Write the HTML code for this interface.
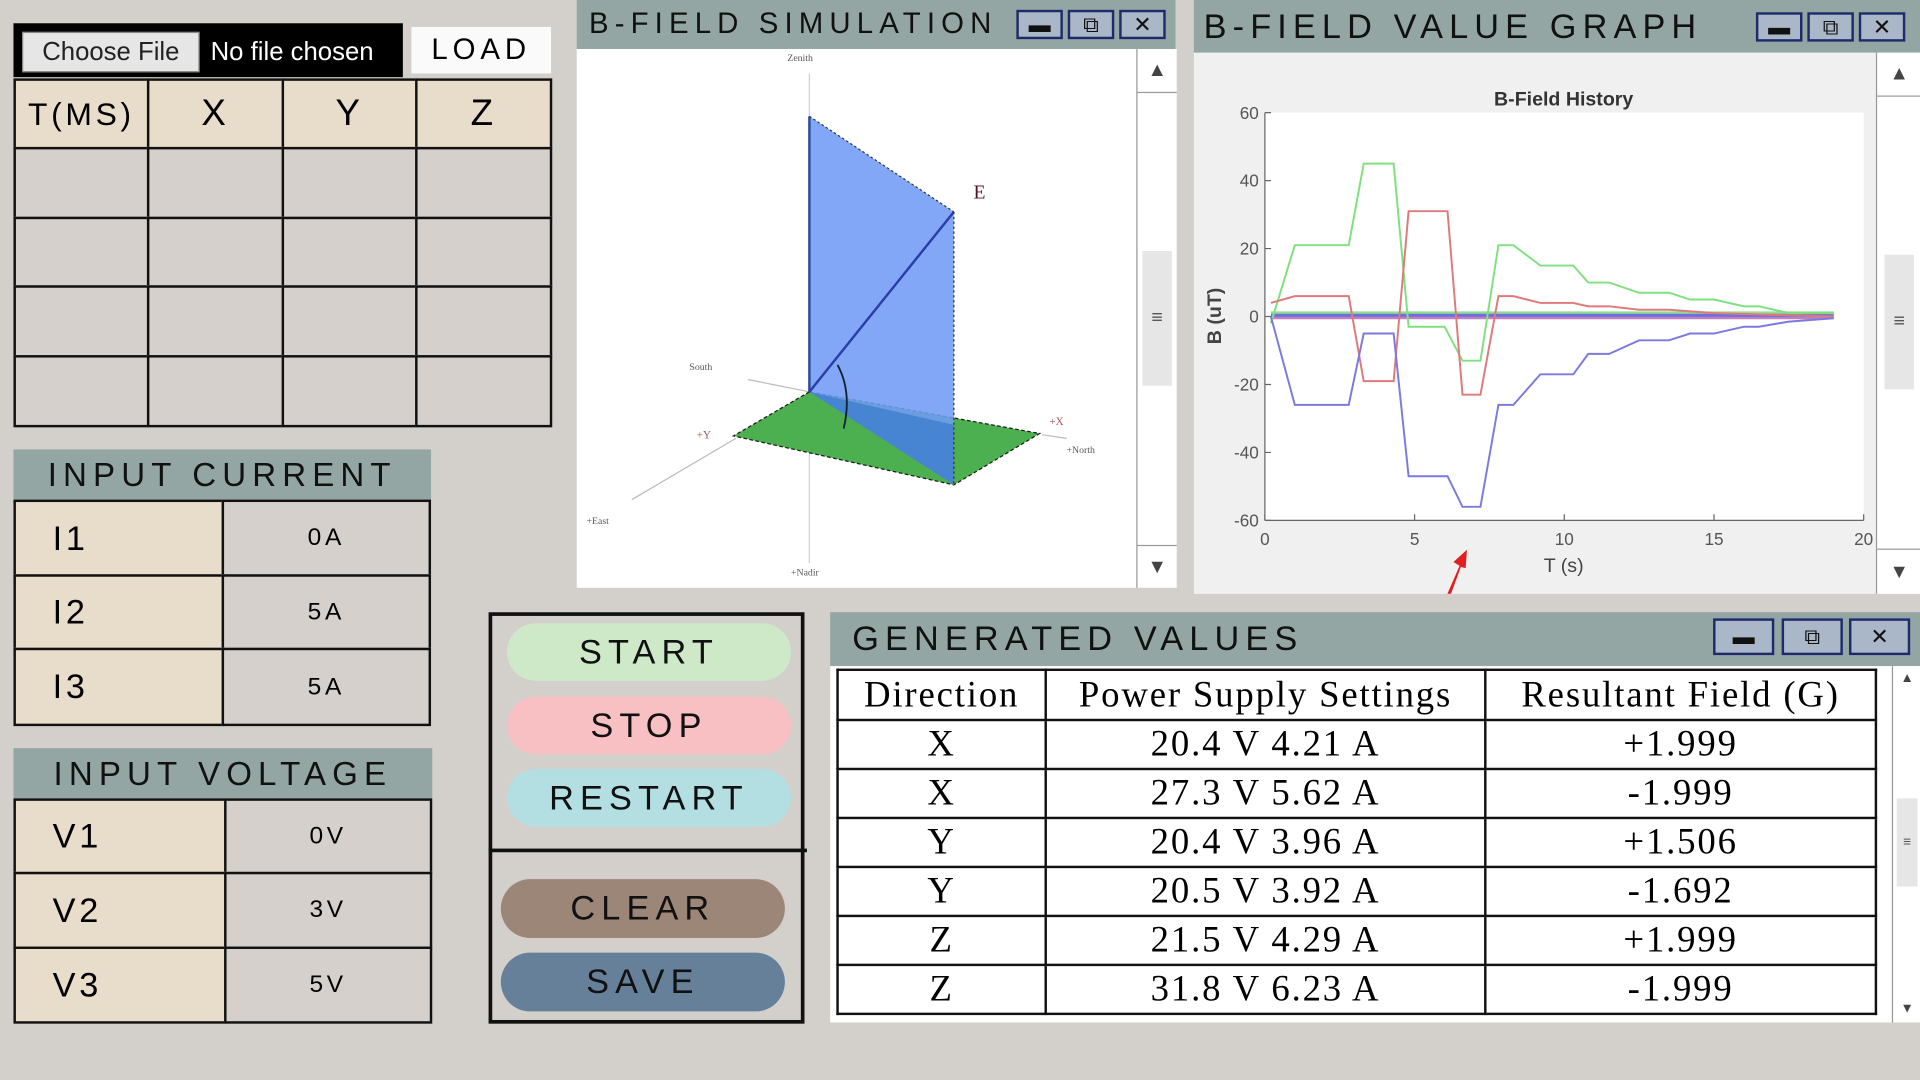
<!DOCTYPE html>
<html><head><meta charset="utf-8"><style>
html,body{margin:0;padding:0;width:1920px;height:1080px;overflow:hidden;background:#d3cfcb;font-family:"Liberation Sans",sans-serif}
#root{position:absolute;left:0;top:0;width:1568px;height:882px;transform:scale(1.22449);transform-origin:0 0;background:#d3cfcb}
.a{position:absolute;box-sizing:border-box}
.cell{position:absolute;box-sizing:border-box;border:2px solid #111;display:flex;align-items:center;justify-content:center}
.beige{background:#e8dccb}
.grey{background:#d5d0cb}
.hdr{background:#93a6a3;letter-spacing:5px;font-size:27px;color:#111;display:flex;align-items:center}
.btn{position:absolute;border-radius:24px;display:flex;align-items:center;justify-content:center;font-size:28px;letter-spacing:5px;color:#111}
.wb{position:absolute;top:8px;width:38px;height:24px;border:2px solid #1e2a6a;background:#a9b7c8;box-sizing:border-box;display:flex;align-items:center;justify-content:center;font-size:18px;color:#111}
.sb{position:absolute;background:#fff;border-left:1px solid #999}
.gv td{border:2px solid #111;text-align:center;font-family:"Liberation Serif",serif;font-size:30px;letter-spacing:1.5px;height:36px;padding:0;box-sizing:border-box}
.gv tr{height:40px}
.gv tr:first-child{height:41px}
</style></head><body>
<div id="root">
<!-- file row -->
<div class="a" style="left:11px;top:19px;width:318px;height:44px;background:#000"></div>
<div class="a" style="left:18px;top:26px;width:145px;height:33px;background:#e6e6e6;border:1px solid #888;font-size:21px;color:#222;display:flex;align-items:center;justify-content:center">Choose File</div>
<div class="a" style="left:172px;top:26px;width:155px;height:33px;color:#fff;font-size:21px;display:flex;align-items:center">No file chosen</div>
<div class="a" style="left:336px;top:22px;width:114px;height:38px;background:#fafafa;font-size:24px;letter-spacing:4px;display:flex;align-items:center;justify-content:center">LOAD</div>
<!-- data table -->
<div id="dt"></div>
<!-- input current -->
<div class="a hdr" style="left:11px;top:367px;width:341px;height:42px;justify-content:center">INPUT CURRENT</div>
<div id="ic"></div>
<div class="a hdr" style="left:11px;top:611px;width:342px;height:42px;justify-content:center">INPUT VOLTAGE</div>
<div id="iv"></div>
<!-- control panel -->
<div class="a" style="left:399px;top:500px;width:258px;height:336px;border:3px solid #111"></div>
<div class="a" style="left:399px;top:693px;width:260px;height:3px;background:#111"></div>
<div class="btn" style="left:414px;top:509px;width:232px;height:47px;background:#cde9c7">START</div>
<div class="btn" style="left:414px;top:569px;width:232px;height:47px;background:#f8c0c3">STOP</div>
<div class="btn" style="left:414px;top:628px;width:232px;height:47px;background:#b3dfe3">RESTART</div>
<div class="btn" style="left:409px;top:718px;width:232px;height:48px;background:#9c8677">CLEAR</div>
<div class="btn" style="left:409px;top:778px;width:232px;height:48px;background:#67809a">SAVE</div>
<!-- simulation window -->
<div class="a hdr" style="left:471px;top:0;width:489px;height:40px;padding-left:10px;font-size:24px">B-FIELD SIMULATION</div>
<div class="wb" style="left:830px">▬</div>
<div class="wb" style="left:872px">⧉</div>
<div class="wb" style="left:914px">✕</div>
<div class="a" style="left:471px;top:40px;width:457px;height:440px;background:#fff">
<svg width="457" height="440" viewBox="0 0 457 440">
<line x1="190" y1="20" x2="190" y2="420" stroke="#e3c8c8" stroke-width="1"/>
<line x1="140" y1="270" x2="190" y2="280" stroke="#bbb"/>
<line x1="45" y1="368" x2="130" y2="318" stroke="#bbb"/>
<line x1="380" y1="315" x2="400" y2="318" stroke="#bbb"/>
<polygon points="190,280 128,316 308,356 378,314" fill="#4caf50" stroke="#1a1a1a" stroke-dasharray="3,2"/>
<polygon points="190,55 190,280 308,356 308,133" fill="#6f9bf5" opacity="0.88"/>
<polygon points="190,280 308,356 308,307" fill="#3f7fd0" opacity="0.8"/>
<line x1="190" y1="55" x2="190" y2="280" stroke="#2b4a9a" stroke-width="2"/>
<line x1="190" y1="280" x2="308" y2="133" stroke="#2b3ea8" stroke-width="2"/>
<line x1="190" y1="55" x2="308" y2="133" stroke="#333" stroke-dasharray="2,2"/>
<line x1="308" y1="133" x2="308" y2="356" stroke="#333" stroke-dasharray="2,2"/>
<path d="M213 258 Q225 280 218 310" fill="none" stroke="#123" stroke-width="1.5"/>
<text x="324" y="122" font-family="Liberation Serif" font-size="16" fill="#512">E</text>
<text x="172" y="10" font-family="Liberation Serif" font-size="8" fill="#555">Zenith</text>
<text x="92" y="262" font-family="Liberation Serif" font-size="8" fill="#555">South</text>
<text x="98" y="318" font-family="Liberation Serif" font-size="9" fill="#a55">+Y</text>
<text x="386" y="307" font-family="Liberation Serif" font-size="9" fill="#a55">+X</text>
<text x="400" y="330" font-family="Liberation Serif" font-size="8" fill="#555">+North</text>
<text x="8" y="388" font-family="Liberation Serif" font-size="8" fill="#555">+East</text>
<text x="175" y="430" font-family="Liberation Serif" font-size="8" fill="#555">+Nadir</text>
</svg></div>
<div class="sb" style="left:928px;top:40px;width:32px;height:440px">
<div class="a" style="left:0;top:0;width:32px;height:36px;border-bottom:1px solid #999;text-align:center;font-size:16px;line-height:36px;color:#444">▲</div>
<div class="a" style="left:4px;top:165px;width:24px;height:110px;background:#e6e6e6;text-align:center;line-height:110px;color:#555">≡</div>
<div class="a" style="left:0;top:405px;width:32px;height:35px;border-top:1px solid #999;text-align:center;font-size:16px;line-height:35px;color:#444">▼</div></div>
<!-- graph window -->
<div class="a hdr" style="left:975px;top:0;width:593px;height:43px;padding-left:8px;font-size:28px">B-FIELD VALUE GRAPH</div>
<div class="wb" style="left:1434px;top:10px">▬</div>
<div class="wb" style="left:1476px;top:10px">⧉</div>
<div class="wb" style="left:1518px;top:10px">✕</div>
<div class="a" style="left:975px;top:43px;width:557px;height:442px;background:#f0f0f0">
<svg id="chart" width="557" height="442" viewBox="975 43 557 442" style="position:absolute;left:0;top:0"></svg></div>
<div class="sb" style="left:1532px;top:43px;width:36px;height:442px">
<div class="a" style="left:0;top:0;width:36px;height:36px;border-bottom:1px solid #999;text-align:center;font-size:16px;line-height:36px;color:#444">▲</div>
<div class="a" style="left:6px;top:165px;width:24px;height:110px;background:#e6e6e6;text-align:center;line-height:110px;color:#555">≡</div>
<div class="a" style="left:0;top:405px;width:36px;height:37px;border-top:1px solid #999;text-align:center;font-size:16px;line-height:37px;color:#444">▼</div></div>
<!-- generated values -->
<div class="a hdr" style="left:678px;top:500px;width:890px;height:44px;padding-left:18px;font-size:28px">GENERATED VALUES</div>
<div class="wb" style="left:1399px;top:505px;width:50px;height:30px">▬</div>
<div class="wb" style="left:1455px;top:505px;width:50px;height:30px">⧉</div>
<div class="wb" style="left:1510px;top:505px;width:50px;height:30px">✕</div>
<div class="a" style="left:678px;top:544px;width:890px;height:291px;background:#fff"></div>
<table class="a gv" style="left:683px;top:546px;width:850px;border-collapse:collapse;background:#fff">
<tr><td style="width:170px">Direction</td><td style="width:359px">Power Supply Settings</td><td>Resultant Field (G)</td></tr>
<tr><td>X</td><td>20.4 V 4.21 A</td><td>+1.999</td></tr>
<tr><td>X</td><td>27.3 V 5.62 A</td><td>-1.999</td></tr>
<tr><td>Y</td><td>20.4 V 3.96 A</td><td>+1.506</td></tr>
<tr><td>Y</td><td>20.5 V 3.92 A</td><td>-1.692</td></tr>
<tr><td>Z</td><td>21.5 V 4.29 A</td><td>+1.999</td></tr>
<tr><td>Z</td><td>31.8 V 6.23 A</td><td>-1.999</td></tr>
</table>
<div class="sb" style="left:1545px;top:544px;width:23px;height:291px">
<div class="a" style="left:0;top:0;width:23px;height:20px;text-align:center;font-size:11px;line-height:20px;color:#444">▲</div>
<div class="a" style="left:3px;top:108px;width:17px;height:72px;background:#e6e6e6;text-align:center;line-height:72px;font-size:11px;color:#555">≡</div>
<div class="a" style="left:0;top:270px;width:23px;height:21px;text-align:center;font-size:11px;line-height:21px;color:#444">▼</div></div>
</div>
<script>
// tables
function mk(parent,cls,l,t,w,h,txt,name,fs,inter){
  const d=document.createElement('div');d.className='cell '+cls;
  d.style.cssText+=`left:${l}px;top:${t}px;width:${w}px;height:${h}px;font-size:${fs}px;letter-spacing:3px`;
  d.textContent=txt;
  
  
  document.getElementById('root').appendChild(d);
}
const dtCols=[11,121,231,340,450], dtRows=[64,121,178,234,291,348];
const dtHead=['T(MS)','X','Y','Z'];
for(let r=0;r<5;r++)for(let c=0;c<4;c++){
  mk(null,r===0?'beige':'grey',dtCols[c]-(c?1:0),dtRows[r]-(r?1:0),dtCols[c+1]-dtCols[c]+(c?1:0)+1,dtRows[r+1]-dtRows[r]+(r?1:0)+1,r===0?dtHead[c]:'',r===0?'data-table-header':'data-table-cell',r===0?(c===0?26:30):20,r>0);
}
const icRows=[408,470,530,592], icLabels=['I1','I2','I3'], icVals=['0A','5A','5A'];
for(let i=0;i<3;i++){
  mk(null,'beige',11,icRows[i]-(i?1:0),172,icRows[i+1]-icRows[i]+(i?1:0)+1,icLabels[i],'current-label',28,false);
  mk(null,'grey',181,icRows[i]-(i?1:0),171,icRows[i+1]-icRows[i]+(i?1:0)+1,icVals[i],'current-value',20,true);
}
const ivRows=[652,713,774,835], ivLabels=['V1','V2','V3'], ivVals=['0V','3V','5V'];
for(let i=0;i<3;i++){
  mk(null,'beige',11,ivRows[i]-(i?1:0),174,ivRows[i+1]-ivRows[i]+(i?1:0)+1,ivLabels[i],'voltage-label',28,false);
  mk(null,'grey',183,ivRows[i]-(i?1:0),170,ivRows[i+1]-ivRows[i]+(i?1:0)+1,ivVals[i],'voltage-value',20,true);
}
document.querySelectorAll('.cell').forEach(c=>{if(c.textContent.length<=3&&c.classList.contains('beige')&&/^[IV]/.test(c.textContent)){c.style.justifyContent='flex-start';c.style.paddingLeft='30px';}});

// chart data
const timesG=[0.2,1,2.8,3.3,4.3,4.8,6,6.6,7.2,7.8,8.3,9.2,10.3,10.8,11.5,12.5,13.5,14.2,15,16,16.5,17.5,19];
const greenVals=[-2,21,21,45,45,-3,-3,-13,-13,21,21,15,15,10,10,7,7,5,5,3,3,1,1];
const timesR=[0.2,1,2.8,3.3,4.3,4.8,6.1,6.6,7.2,7.8,8.3,9.2,10.3,10.8,11.5,12.5,13.5,15,19];
const redVals=[4,6,6,-19,-19,31,31,-23,-23,6,6,4,4,3,3,2,2,1,0];
const timesB=[0.2,1,2.8,3.3,4.3,4.8,6.1,6.6,7.2,7.8,8.3,9.2,10.3,10.8,11.5,12.5,13.5,14.2,15,16,16.5,17.5,19];
const blueVals=[0,-26,-26,-5,-5,-47,-47,-56,-56,-26,-26,-17,-17,-11,-11,-7,-7,-5,-5,-3,-3,-1.5,-0.5];
const xTicks=[0,5,10,15,20];
const yTicks=[60,40,20,0,-20,-40,-60];
const X0=1033,X1=1522,Y0=92,Y1=425;
const sx=t=>X0+(t-0)/20*(X1-X0);
const sy=v=>Y0+(60-v)/120*(Y1-Y0);
const svg=document.getElementById('chart');const NS='http://www.w3.org/2000/svg';
function el(tag,attrs,txt){const e=document.createElementNS(NS,tag);for(const k in attrs)e.setAttribute(k,attrs[k]);if(txt!==undefined)e.textContent=txt;svg.appendChild(e);return e;}
const bg=el('rect',{x:X0,y:Y0,width:X1-X0,height:Y1-Y0,fill:'#fff'});


const t=el('text',{x:1277,y:86,'text-anchor':'middle','font-size':16,'font-weight':'bold',fill:'#333'},'B-Field History');


el('line',{x1:X0,y1:Y0,x2:X0,y2:Y1,stroke:'#666'});
el('line',{x1:X0,y1:Y1,x2:X1,y2:Y1,stroke:'#666'});
xTicks.forEach(v=>{el('line',{x1:sx(v),y1:Y1,x2:sx(v),y2:Y1-5,stroke:'#666'});
  const tx=el('text',{x:sx(v),y:Y1+20,'text-anchor':'middle','font-size':14,fill:'#555'},v);
  
  });
yTicks.forEach(v=>{el('line',{x1:X0,y1:sy(v),x2:X0+5,y2:sy(v),stroke:'#666'});
  const tx=el('text',{x:X0-5,y:sy(v)+5,'text-anchor':'end','font-size':14,fill:'#555'},v);
  
  });
const xl=el('text',{x:1277,y:467,'text-anchor':'middle','font-size':16,fill:'#444'},'T (s)');


const yl=el('text',{x:997,y:258,'text-anchor':'middle','font-size':16,'font-weight':'bold',fill:'#444',transform:'rotate(-90 997 258)'},'B (uT)');


[['#8fe08f',-1.5],['#c080c0',0.5],['#6f6fe0',-0.5]].forEach(([c,o])=>{
  const l=el('line',{x1:sx(0.2),y1:sy(0)+o*2,x2:sx(19),y2:sy(0)+o*2,stroke:c,'stroke-width':2.5});
  
  });
function series(ts,vs,c,name){const p=el('polyline',{points:ts.map((tt,i)=>sx(tt)+','+sy(vs[i])).join(' '),fill:'none',stroke:c,'stroke-width':1.6});
  
  }
series(timesG,greenVals,'#7fe07f','series-green');
series(timesR,redVals,'#e07a7a','series-red');
series(timesB,blueVals,'#7a7ae0','series-blue');
const ar=el('polygon',{points:'1182,485 1192,462 1187,459 1198,449 1197,464 1193,463 1185,485',fill:'#e02020'});


</script>
</body></html>
